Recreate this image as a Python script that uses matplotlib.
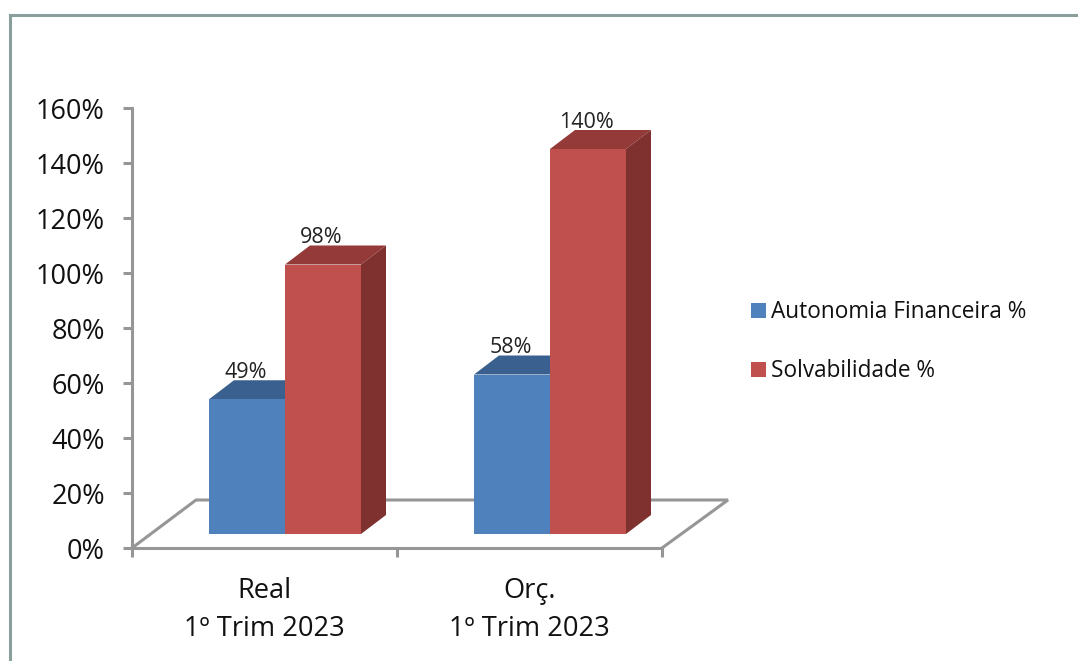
import matplotlib
matplotlib.use('Agg')
import matplotlib.pyplot as plt
from matplotlib.patches import Polygon, Rectangle
from matplotlib.lines import Line2D
from matplotlib.transforms import ScaledTranslation

categories = ['Real\n1º Trim 2023', 'Orç.\n1º Trim 2023']
series_names = ['Autonomia Financeira %', 'Solvabilidade %']
autonomia = [49, 58]
solvabilidade = [98, 140]
yticks = [0, 20, 40, 60, 80, 100, 120, 140, 160]

W, H = 1078, 661
plt.rcParams['font.family'] = ['Open Sans', 'DejaVu Sans']

fig = plt.figure(figsize=(W / 100, H / 100), dpi=100)
ax = fig.add_axes([132 / W, 1 - 548 / H, 530 / W, 440 / H])
ax.set_xlim(0, 2)
ax.set_ylim(0, 160)
ax.patch.set_visible(False)

GREY = '#969696'
dx = 25 / 265   # глубина столбика по x
dy = 19 / 2.75  # глубина столбика по y
base = 14 / 2.75
bar_w = 76 / 265
start = 77 / 265

# пол диаграммы
fx = 64 / 265
fy = 48 / 2.75
ax.plot([0, fx, 2 + 66 / 265, 2], [0, fy, fy, 0], color=GREY, lw=2.2,
        clip_on=False, solid_joinstyle='miter', zorder=1)


def bar3d(x, val, front, top, side, z):
    y1 = val + base
    ax.add_patch(Polygon([(x, y1), (x + dx, y1 + dy), (x + bar_w + dx, y1 + dy), (x + bar_w, y1)],
                         fc=top, ec='none', clip_on=False, zorder=z))
    ax.add_patch(Polygon([(x + bar_w, base), (x + bar_w + dx, base + dy), (x + bar_w + dx, y1 + dy), (x + bar_w, y1)],
                         fc=side, ec='none', clip_on=False, zorder=z))
    ax.add_patch(Rectangle((x, base), bar_w, val, fc=front, ec='none', clip_on=False, zorder=z + 0.1))
    ax.text(x + bar_w / 2 - 0.006, y1 + dy + 0.8, '%d%%' % val, ha='center', va='baseline',
            fontsize=15.5, color='#222222', zorder=5, clip_on=False)


for i in range(2):
    bar3d(i + start, autonomia[i], '#4f81bd', '#3a6090', '#3a6090', 2)
    bar3d(i + start + bar_w, solvabilidade[i], '#c0504d', '#943a38', '#7f3130', 3)

for s in ['top', 'right']:
    ax.spines[s].set_visible(False)
for s in ['left', 'bottom']:
    ax.spines[s].set_color(GREY)
    ax.spines[s].set_linewidth(2.2)
    ax.spines[s].set_zorder(1)

ax.set_yticks(yticks)
ax.set_yticklabels(['%d%%' % v for v in yticks], fontsize=19.5, color='#111111')
ax.set_xticks([0, 1, 2])
ax.set_xticklabels([])
ax.tick_params(axis='both', color=GREY, width=2.2, length=6.5)
ax.tick_params(axis='y', pad=13)
off = ScaledTranslation(0, -0.6 / 72, fig.dpi_scale_trans)
for lab in ax.get_yticklabels():
    lab.set_transform(lab.get_transform() + off)
for i, c in enumerate(categories):
    ax.text(i + 0.5, -10.4, c, ha='center', va='top', fontsize=19.6, color='#111111',
            linespacing=1.5, clip_on=False)

# легенда
for name, color, y in zip(series_names, ['#4f81bd', '#c0504d'], [311, 370]):
    fig.add_artist(Rectangle((751 / W, 1 - (y + 7) / H), 15 / W, 15 / H, fc=color, ec='none',
                             transform=fig.transFigure))
    fig.text(771 / W, 1 - (y + 1) / H, name, ha='left', va='center', fontsize=16.3, color='#111111')

# рамка картинки
for xs, ys in [([10, 10], [15, 661]), ([10, 1078], [15, 15])]:
    fig.add_artist(Line2D([v / W for v in xs], [1 - v / H for v in ys], color='#8a9e9c', lw=2.2,
                          transform=fig.transFigure))

fig.savefig('out.png', dpi=100)
